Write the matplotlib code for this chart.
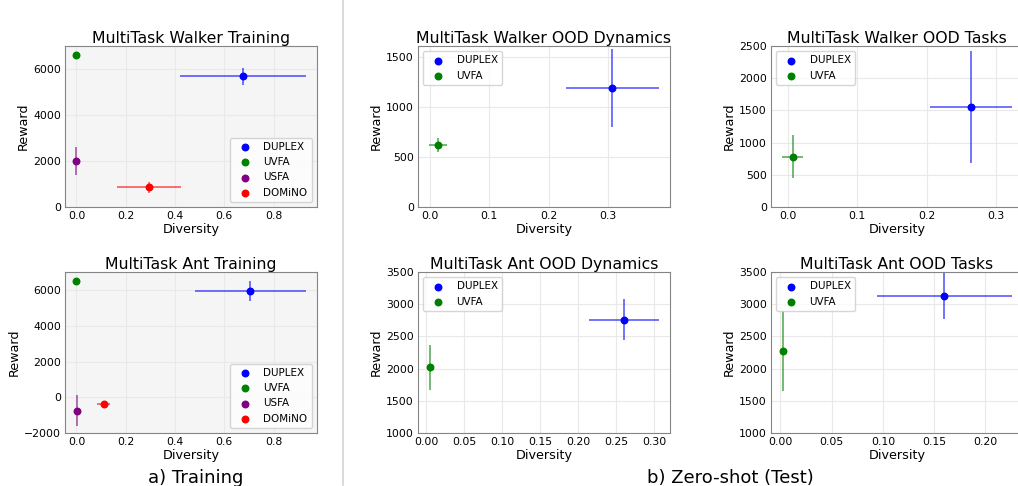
import matplotlib
matplotlib.use("Agg")
import matplotlib.pyplot as plt
from matplotlib.lines import Line2D

# data (diversity / reward, with spreads)
train_methods = ["DUPLEX", "UVFA", "USFA", "DOMiNO"]
test_methods = ["DUPLEX", "UVFA"]

walker_train_div = [0.675, 0.0, 0.0, 0.295]
walker_train_div_err = [0.255, 0.0, 0.0, 0.13]
walker_train_rew = [5700, 6600, 2000, 850]
walker_train_rew_err = [370, 150, 600, 250]

ant_train_div = [0.706, 0.0, 0.002, 0.110]
ant_train_div_err = [0.224, 0.0, 0.0, 0.025]
ant_train_rew = [5980, 6500, -750, -370]
ant_train_rew_err = [560, 80, 860, 150]

walker_dyn_div = [0.3067, 0.014]
walker_dyn_div_err = [0.0776, 0.0145]
walker_dyn_rew = [1190, 620]
walker_dyn_rew_err = [387, 70]

walker_task_div = [0.2635, 0.007]
walker_task_div_err = [0.059, 0.0145]
walker_task_rew = [1555, 780]
walker_task_rew_err = [870, 335]

ant_dyn_div = [0.26, 0.005]
ant_dyn_div_err = [0.0455, 0.001]
ant_dyn_rew = [2760, 2020]
ant_dyn_rew_err = [320, 350]

ant_task_div = [0.16, 0.003]
ant_task_div_err = [0.0655, 0.001]
ant_task_rew = [3132, 2273]
ant_task_rew_err = [362, 620]

colors = ["blue", "green", "purple", "red"]

W, H = 1018, 486
fig = plt.figure(figsize=(W / 100, H / 100), dpi=100)


def make_axes(left, top, width=252, height=161):
    return fig.add_axes([left / W, 1 - (top + height) / H, width / W, height / H])


def panel(ax, title, methods, div, div_err, rew, rew_err, ylim, yticks, loc, face):
    ax.set_facecolor(face)
    for i, m in enumerate(methods):
        ax.errorbar(div[i], rew[i], xerr=div_err[i], yerr=rew_err[i], fmt="none",
                    ecolor=colors[i], alpha=0.55, elinewidth=1.4, zorder=2)
        ax.scatter(div[i], rew[i], s=22, color=colors[i], label=m, zorder=3)
    ax.set_ylim(*ylim)
    ax.set_yticks(yticks)
    ax.set_title(title, fontsize=11.3, pad=2)
    ax.set_xlabel("Diversity", fontsize=9.2, labelpad=1)
    ax.set_ylabel("Reward", fontsize=9.2, labelpad=2)
    ax.tick_params(labelsize=7.8, length=0, pad=3)
    ax.grid(True, color="#e9e9e9", lw=0.8)
    ax.set_axisbelow(True)
    for s in ax.spines.values():
        s.set_color("#858585")
    ax.legend(loc=loc, fontsize=7.5)


ax1 = make_axes(65, 46)
panel(ax1, "MultiTask Walker Training", train_methods, walker_train_div, walker_train_div_err,
      walker_train_rew, walker_train_rew_err, (0, 7010), [0, 2000, 4000, 6000],
      "lower right", "#f5f5f5")

ax2 = make_axes(65, 272)
panel(ax2, "MultiTask Ant Training", train_methods, ant_train_div, ant_train_div_err,
      ant_train_rew, ant_train_rew_err, (-2000, 7030), [-2000, 0, 2000, 4000, 6000],
      "lower right", "#f5f5f5")

ax3 = make_axes(418, 46)
panel(ax3, "MultiTask Walker OOD Dynamics", test_methods, walker_dyn_div, walker_dyn_div_err,
      walker_dyn_rew, walker_dyn_rew_err, (0, 1607), [0, 500, 1000, 1500],
      "upper left", "white")
ax3.set_xticks([0.0, 0.1, 0.2, 0.3])

ax4 = make_axes(771, 46)
panel(ax4, "MultiTask Walker OOD Tasks", test_methods, walker_task_div, walker_task_div_err,
      walker_task_rew, walker_task_rew_err, (0, 2500), [0, 500, 1000, 1500, 2000, 2500],
      "upper left", "white")
ax4.set_xticks([0.0, 0.1, 0.2, 0.3])

ax5 = make_axes(418, 272)
panel(ax5, "MultiTask Ant OOD Dynamics", test_methods, ant_dyn_div, ant_dyn_div_err,
      ant_dyn_rew, ant_dyn_rew_err, (1000, 3500), [1000, 1500, 2000, 2500, 3000, 3500],
      "upper left", "white")
ax5.set_xticks([0.0, 0.05, 0.10, 0.15, 0.20, 0.25, 0.30])

ax6 = make_axes(771, 272)
panel(ax6, "MultiTask Ant OOD Tasks", test_methods, ant_task_div, ant_task_div_err,
      ant_task_rew, ant_task_rew_err, (1000, 3500), [1000, 1500, 2000, 2500, 3000, 3500],
      "upper left", "white")
ax6.set_xticks([0.0, 0.05, 0.10, 0.15, 0.20])

# separator between training and zero-shot panels
fig.add_artist(Line2D([343.3 / W, 343.3 / W], [0.002, 1], color="#d3d3d3", lw=1.2))

fig.text(196 / W, 1 - 478 / H, "a) Training", fontsize=13, ha="center", va="center")
fig.text(730 / W, 1 - 478 / H, "b) Zero-shot (Test)", fontsize=13, ha="center", va="center")

fig.savefig("out.png", dpi=100)
